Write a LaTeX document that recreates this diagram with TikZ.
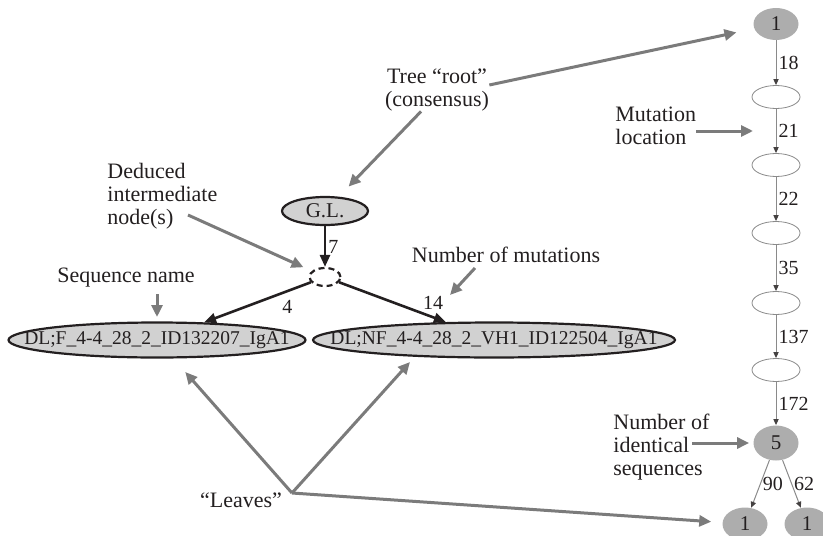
\documentclass[tikz,border=0pt]{standalone}
\usepackage{fontspec}
\setmainfont{Liberation Serif}
\usetikzlibrary{arrows.meta, shapes.geometric}

\definecolor{ink}{HTML}{231F20}
\definecolor{notegray}{HTML}{7B7B7B}
\definecolor{leaffill}{HTML}{D1D1D1}
\definecolor{countfill}{HTML}{ADADAD}
\definecolor{sitegray}{HTML}{8A8A8A}

\begin{document}
\begin{tikzpicture}[x=0.5pt, y=-0.5pt,
	every node/.style={text=ink},
	note/.style={font=\fontsize{11}{11.4}\selectfont, inner sep=0pt, align=left},
	pointer/.style={draw=notegray, line width=1.5pt, -{Triangle[length=6pt, width=5.5pt, color=notegray]}},
	leaf/.style={ellipse, draw=ink, line width=1.1pt, fill=leaffill, inner sep=0pt, font=\fontsize{9.75}{11}\selectfont},
	branch/.style={draw=ink, line width=1.3pt, -{Triangle[length=6pt, width=5pt]}},
	count/.style={ellipse, fill=countfill, inner sep=0pt, minimum width=22.5pt, minimum height=16pt, font=\fontsize{10.5}{12}\selectfont},
	site/.style={ellipse, draw=sitegray, line width=0.4pt, inner sep=0pt, minimum width=24pt, minimum height=11.5pt},
	mutedge/.style={draw=sitegray, line width=0.5pt, -{Triangle[length=3pt, width=2.6pt, color=ink!85]}},
	lbl/.style={font=\fontsize{10}{12}\selectfont, inner sep=1pt}]
	\useasboundingbox (0, 0) rectangle (823, 535);

	% reconstructed tree
	\node[leaf, minimum width=43pt, minimum height=14pt, font=\fontsize{10.5}{12}\selectfont] (gl) at (325, 211) {G.L.};
	\node[ellipse, draw=ink, line width=1.1pt, dash pattern=on 3pt off 2pt, inner sep=0pt, minimum width=15.5pt, minimum height=9pt] (dn) at (325, 277) {};
	\node[leaf, minimum width=148.5pt, minimum height=17.5pt] (lf1) at (157, 340) {\makebox[0pt]{DL;F\_4-4\_28\_2\_ID132207\_IgA1}};
	\node[leaf, minimum width=181pt, minimum height=17.5pt] (lf2) at (494, 340) {\makebox[0pt]{DL;NF\_4-4\_28\_2\_VH1\_ID122504\_IgA1}};

	\draw[branch] (gl) -- (dn) node[midway, right, lbl] {7};
	\draw[branch] (dn) -- (lf1) node[pos=0.22, below, lbl, yshift=-3pt] {4};
	\draw[branch] (dn) -- (lf2) node[pos=0.88, above, lbl, yshift=2pt] {14};

	% mutation chain
	\node[count] (r1) at (776, 24) {1};
	\node[site] (m1) at (776, 97) {};
	\node[site] (m2) at (776, 165) {};
	\node[site] (m3) at (776, 233) {};
	\node[site] (m4) at (776, 303) {};
	\node[site] (m5) at (776, 370) {};
	\node[count, minimum height=17.5pt] (n5) at (776, 443) {5};
	\node[count, minimum height=16.5pt] (b1) at (745, 524) {1};
	\node[count, minimum height=16.5pt] (b2) at (807, 524) {1};

	\draw[mutedge] (r1) -- (m1) node[midway, right, lbl] {18};
	\draw[mutedge] (m1) -- (m2) node[midway, right, lbl] {21} coordinate[midway] (e21);
	\draw[mutedge] (m2) -- (m3) node[midway, right, lbl] {22};
	\draw[mutedge] (m3) -- (m4) node[midway, right, lbl] {35};
	\draw[mutedge] (m4) -- (m5) node[midway, right, lbl] {137};
	\draw[mutedge] (m5) -- (n5) node[midway, right, lbl] {172};
	\draw[mutedge] (n5) -- (b1) node[midway, right, lbl] {90};
	\draw[mutedge] (n5) -- (b2) node[midway, right, lbl] {62};

	% annotations
	\node[note, align=center] (tree) at (437, 90) {Tree “root”\\(consensus)};
	\node[note, anchor=west] (ded) at (107, 196) {Deduced\\intermediate\\node(s)};
	\node[note] (seq) at (126, 278) {Sequence name};
	\node[note] (num) at (506, 255) {Number of mutations};
	\node[note, anchor=west] (mut) at (615, 126) {Mutation\\location};
	\node[note, anchor=west] (ident) at (613, 447) {Number of\\identical\\sequences};
	\node[note] (lvs) at (241, 500) {“Leaves”};

	\coordinate (ded-tail) at (188, 215);
	\coordinate (seq-tail) at (157, 294);
	\coordinate (num-tail) at (475, 268);
	\coordinate (num-tip) at (450, 295);
	\coordinate (ident-tail) at (692, 443);
	\coordinate (lvs-tail) at (292, 493);
	\coordinate (lvs-tip) at (410, 362);

	\draw[pointer, shorten >=9pt] ([yshift=2.5pt]tree.east) -- (r1);
	\draw[pointer, shorten >=7pt] ([xshift=-8pt]tree.south) -- (gl);
	\draw[pointer, shorten >=4.5pt] (ded-tail) -- (dn);
	\draw[pointer, shorten >=2.2pt] (seq-tail) -- (lf1);
	\draw[pointer] (num-tail) -- (num-tip);
	\draw[pointer, shorten >=11.5pt] (mut.east |- e21) -- (e21);
	\draw[pointer, shorten >=2pt] (ident-tail) -- (n5);
	\draw[pointer, shorten >=9pt] (lvs-tail) -- (lf1);
	\draw[pointer] (lvs-tail) -- (lvs-tip);
	\draw[pointer, shorten >=5.5pt] (lvs-tail) -- (b1);
\end{tikzpicture}
\end{document}
